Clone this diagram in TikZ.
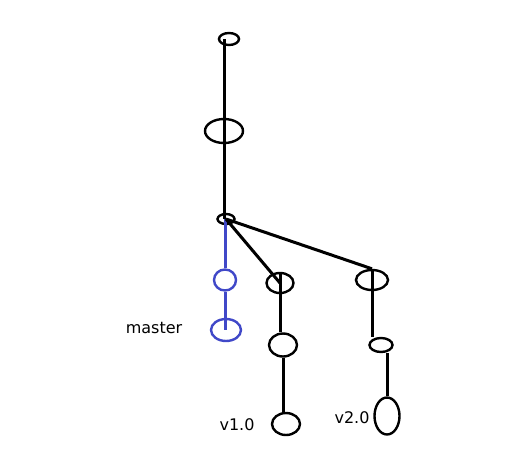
\documentclass[tikz,border=0pt]{standalone}
\usepackage{fontspec}
\setmainfont{DejaVu Sans}
\usetikzlibrary{shapes.geometric}

\definecolor{gitblue}{RGB}{64,72,200}

\begin{document}
\begin{tikzpicture}[
    x=1pt, y=-1pt,
    commit/.style={
        draw, ellipse, line width=2.4pt, inner sep=0pt
    },
    bluecommit/.style={commit, draw=gitblue},
    link/.style={line width=3pt},
    bluelink/.style={link, draw=gitblue},
    tag/.style={font=\fontsize{16}{18}\selectfont, inner sep=0pt}
]
\useasboundingbox (0,0) rectangle (532,471);

% 1. Trunk
\node[commit, minimum width=20pt, minimum height=12pt] (c1) at (229,39) {};
\node[commit, minimum width=38pt, minimum height=24pt] (c2) at (224,131) {};
\node[commit, minimum width=17pt, minimum height=10pt] (c3) at (226,219) {};

% 2. master branch
\node[bluecommit, minimum width=22pt, minimum height=21pt] (m1) at (225,280) {};
\node[bluecommit, minimum width=30pt, minimum height=22pt] (m2) at (226,330) {};

% 3. v1.0 branch
\node[commit, minimum width=27pt, minimum height=20pt] (a1) at (280,283) {};
\node[commit, minimum width=28pt, minimum height=23pt] (a2) at (283,345) {};
\node[commit, minimum width=28pt, minimum height=22pt] (a3) at (286,424) {};

% 4. v2.0 branch
\node[commit, minimum width=32pt, minimum height=20pt] (b1) at (372,280) {};
\node[commit, minimum width=23pt, minimum height=14pt] (b2) at (381,345) {};
\node[commit, minimum width=25pt, minimum height=37pt] (b3) at (387,416) {};

% Labels
\node[tag] (lmaster) at (154,328) {master};
\node[tag] (lv1) at (237,425) {v1.0};
\node[tag] (lv2) at (352,418) {v2.0};

% Trunk
\draw[link] (c1.center -| c2.center) -- (c3.center -| c2.center);

% master
\draw[bluelink] (c3.center -| m1.center) -- (m1.north);
\draw[bluelink] (m1.south) -- (m1.south |- m2.center);

% v1.0
\draw[link] (c3.center) -- (a1.center);
\draw[link] (a1.center |- a1.north) -- (a1.center |- a2.north);
\draw[link] (a2.south) -- (a2.south |- a3.north);

% v2.0
\draw[link] (c3.center) -- (b1.north);
\draw[link] (b1.north) -- (b1.north |- b2.north);
\draw[link] (b2.south -| b3.north) -- (b3.north);
\end{tikzpicture}
\end{document}
